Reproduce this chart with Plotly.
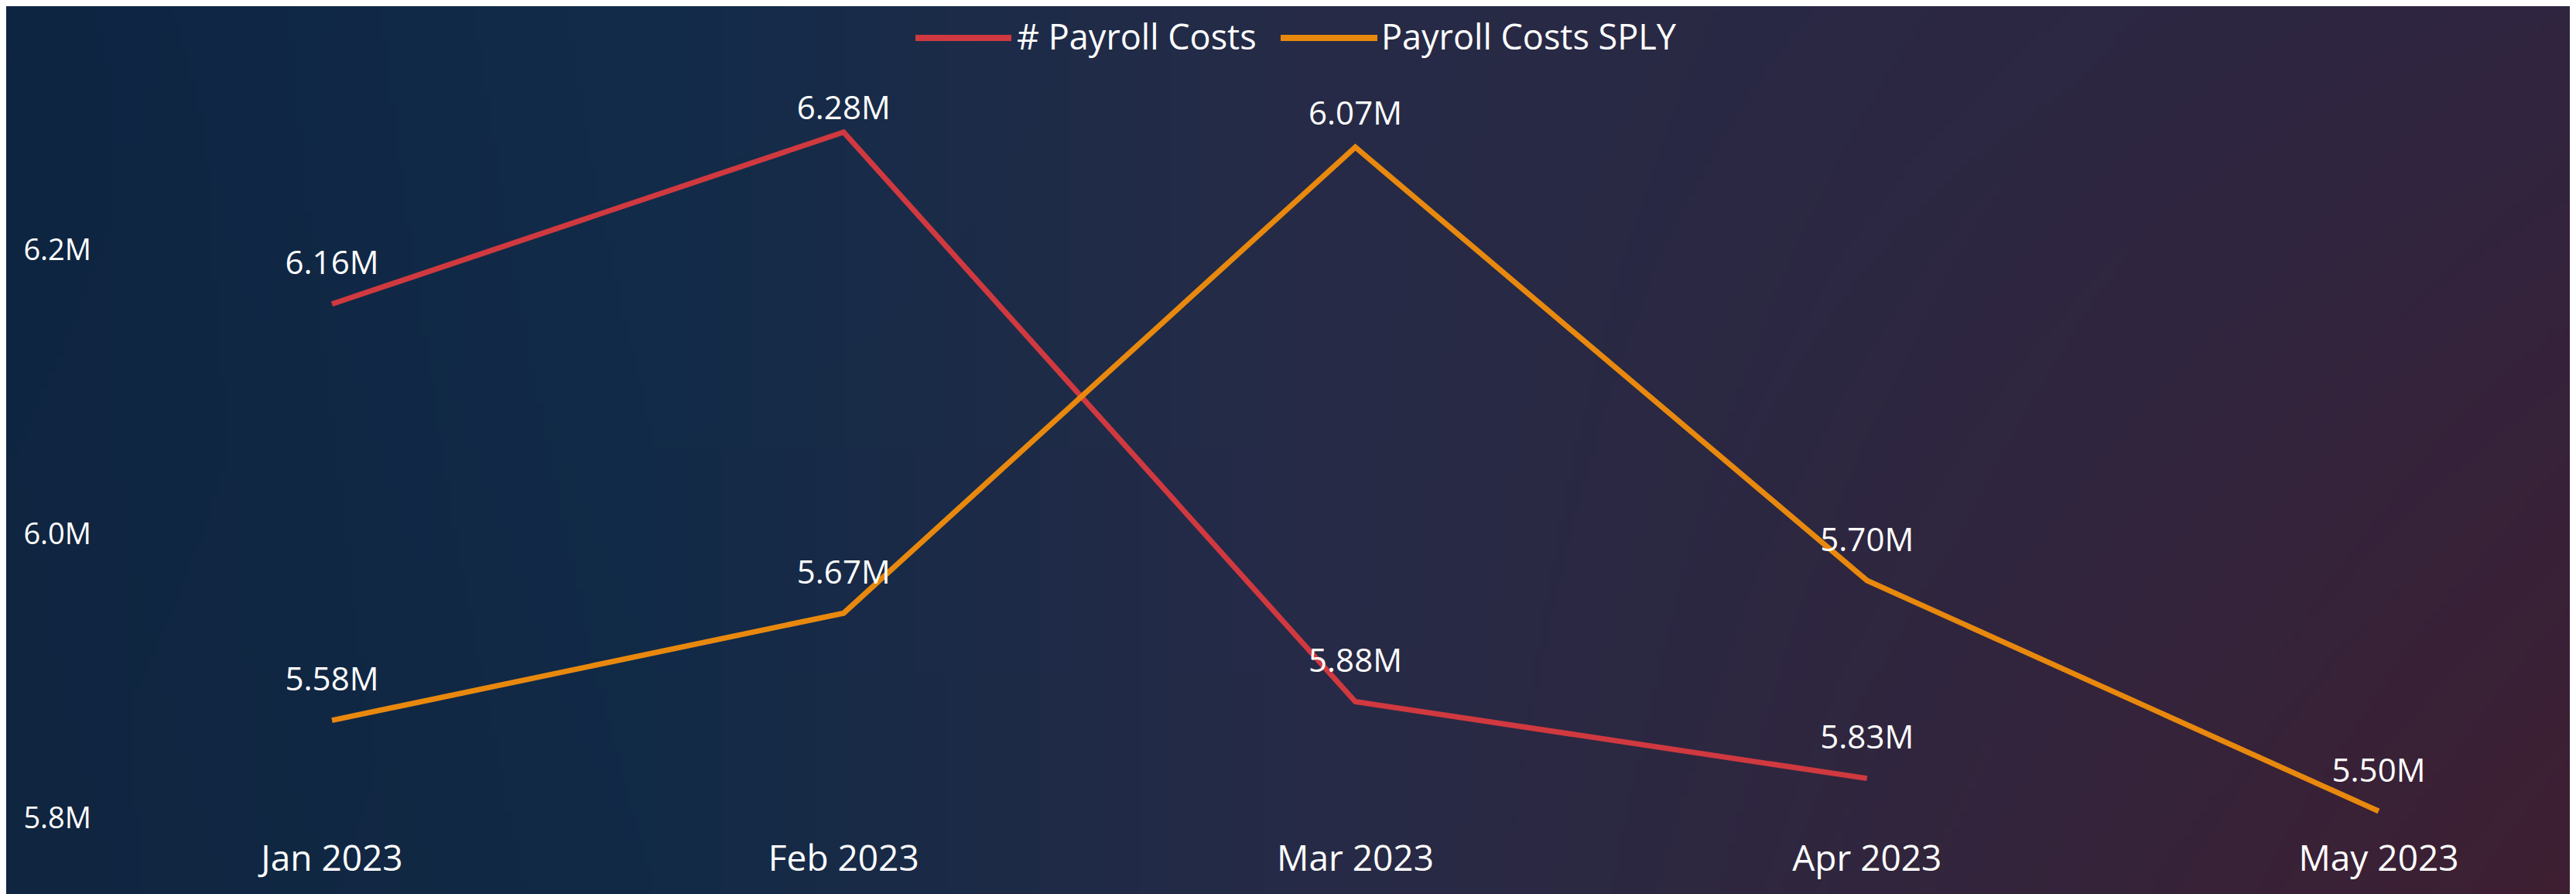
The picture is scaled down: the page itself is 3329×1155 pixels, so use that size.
import base64
import struct
import zlib

import numpy as np
import plotly.graph_objects as go

# ---------------- data ----------------
months = ["Jan 2023", "Feb 2023", "Mar 2023", "Apr 2023", "May 2023"]
payroll_costs = [6.162, 6.283, 5.882, 5.828]            # millions
payroll_costs_sply = [5.578, 5.67, 6.07, 5.698, 5.50]    # millions
y_ticks = [5.8, 6.0, 6.2]
series_names = ["# Payroll Costs", "Payroll Costs SPLY"]

# label-offset styling (labels near the top edge sit closer to their point)
red_label_gap = [43, 9, 43, 43]
orange_label_gap = [43, 43, 29, 43, 43]

RED = "#D0393F"
ORANGE = "#E8890E"
FONT = "Open Sans, Noto Sans, sans-serif"

W, H = 3329, 1155
ML, MR, MT, MB = 125, 0, 100, 85


# ---------------- background gradient image ----------------
def make_bg(w=333, h=116):
    stops_u = [0.0, 0.25, 0.5, 1.0]
    top = np.array([(14, 37, 66), (18, 44, 74), (38, 43, 71), (48, 37, 64)], float)
    bot = np.array([(16, 37, 64), (18, 42, 70), (38, 43, 71), (63, 31, 50)], float)
    u = np.linspace(0, 1, w)
    v = np.linspace(0, 1, h)
    tcol = np.stack([np.interp(u, stops_u, top[:, c]) for c in range(3)], axis=1)
    bcol = np.stack([np.interp(u, stops_u, bot[:, c]) for c in range(3)], axis=1)
    img = tcol[None, :, :] * (1 - v[:, None, None]) + bcol[None, :, :] * v[:, None, None]
    img = np.clip(img, 0, 255).astype(np.uint8)
    raw = b"".join(b"\x00" + img[r].tobytes() for r in range(h))

    def chunk(t, d):
        return struct.pack(">I", len(d)) + t + d + struct.pack(">I", zlib.crc32(t + d) & 0xFFFFFFFF)

    png = (b"\x89PNG\r\n\x1a\n"
           + chunk(b"IHDR", struct.pack(">IIBBBBB", w, h, 8, 2, 0, 0, 0))
           + chunk(b"IDAT", zlib.compress(raw, 9))
           + chunk(b"IEND", b""))
    return "data:image/png;base64," + base64.b64encode(png).decode()


pw = W - ML - MR
ph = H - MT - MB


def px_x(px):
    return (px - ML) / pw


def px_y(py):
    return ((H - MB) - py) / ph


fig = go.Figure()

fig.add_trace(go.Scatter(
    x=months[:len(payroll_costs)], y=payroll_costs, name=series_names[0],
    mode="lines+markers+text", line=dict(color=RED, width=7),
    marker=dict(size=red_label_gap, color="rgba(0,0,0,0)", opacity=0,
                line=dict(width=0, color="rgba(0,0,0,0)")),
    text=[f"{v:.2f}M" for v in payroll_costs], textposition="top center",
    textfont=dict(family=FONT, size=42, color="white"),
    cliponaxis=False, yaxis="y", showlegend=False,
))
fig.add_trace(go.Scatter(
    x=months, y=payroll_costs_sply, name=series_names[1],
    mode="lines+markers+text", line=dict(color=ORANGE, width=7),
    marker=dict(size=orange_label_gap, color="rgba(0,0,0,0)", opacity=0,
                line=dict(width=0, color="rgba(0,0,0,0)")),
    text=[f"{v:.2f}M" for v in payroll_costs_sply], textposition="top center",
    textfont=dict(family=FONT, size=42, color="white"),
    cliponaxis=False, yaxis="y2", showlegend=False,
))

px_per_cat = 661.25
x0 = (ML - 421) / px_per_cat
x1 = (W - MR - 421) / px_per_cat

SHIFT = 7
# left axis: 6.0 at y=689-SHIFT, 1835 px per M
y_lo = 6.0 - ((H - MB) - (689 - SHIFT)) / 1835
y_hi = 6.0 + ((689 - SHIFT) - MT) / 1835
# right axis: 5.50 at y=1047-SHIFT, 1505 px per M
y2_lo = 5.50 - ((H - MB) - (1047 - SHIFT)) / 1505
y2_hi = 5.50 + ((1047 - SHIFT) - MT) / 1505

# custom legend (long line swatches)
legend_items = [(series_names[0], RED, 1175, 1299, 1304),
                (series_names[1], ORANGE, 1647, 1772, 1775)]
shapes = []
annotations = []
for name, col, xa, xb, xt in legend_items:
    shapes.append(dict(type="line", xref="paper", yref="paper",
                       x0=px_x(xa), x1=px_x(xb), y0=px_y(41), y1=px_y(41),
                       line=dict(color=col, width=8)))
    annotations.append(dict(text=name, xref="paper", yref="paper",
                            x=px_x(xt), y=px_y(38), xanchor="left", yanchor="middle",
                            showarrow=False,
                            font=dict(family=FONT, size=45, color="white")))

fig.update_layout(
    width=W, height=H,
    margin=dict(l=ML, r=MR, t=MT, b=MB),
    paper_bgcolor="#1E2840",
    plot_bgcolor="rgba(0,0,0,0)",
    font=dict(family=FONT, color="white"),
    showlegend=False,
    xaxis=dict(
        type="category", range=[x0, x1], showgrid=False, zeroline=False,
        showline=False, ticks="", tickfont=dict(family=FONT, size=46, color="white"),
    ),
    yaxis=dict(
        range=[y_lo, y_hi], tickvals=y_ticks, ticktext=[f"{t:.1f}M" for t in y_ticks],
        showgrid=False, zeroline=False, showline=False, ticks="",
        ticklabelstandoff=14,
        tickfont=dict(family=FONT, size=38, color="white"),
    ),
    yaxis2=dict(
        range=[y2_lo, y2_hi], overlaying="y", side="right", visible=False,
        showgrid=False, zeroline=False,
    ),
    shapes=shapes,
    annotations=annotations,
    images=[dict(
        source=make_bg(), xref="paper", yref="paper",
        x=-ML / pw, y=1 + MT / ph, sizex=W / pw, sizey=H / ph,
        xanchor="left", yanchor="top", sizing="stretch", layer="below",
    )],
)

fig.write_html("out.html")
